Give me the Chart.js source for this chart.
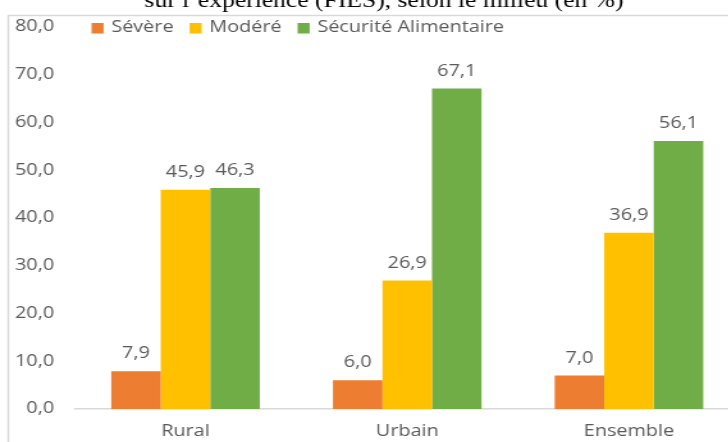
<!DOCTYPE html>
<html>
<head>
<meta charset="UTF-8">
<title>Insécurité alimentaire selon le milieu</title>
<style>
  html, body { margin: 0; padding: 0; background: #fff; overflow: hidden; }
  body { width: 728px; height: 442px; }
  /* the chart is drawn narrow, then widened to the page */
  #wrap { width: 590px; height: 442px; transform: scaleX(1.28); transform-origin: 0 0; }
</style>
</head>
<body>
<div id="wrap"><canvas id="fiesChart" width="590" height="442"></canvas></div>
<script src="https://cdn.jsdelivr.net/npm/chart.js"></script>
<script>
  const categories = ['Rural', 'Urbain', 'Ensemble'];
  const severe     = [7.9, 6.0, 7.0];
  const modere     = [45.9, 26.9, 36.9];
  const securite   = [46.3, 67.1, 56.1];
  const seriesLabels = ['Sévère', 'Modéré', 'Sécurité Alimentaire'];
  const titleText = 'sur l’expérience (FIES), selon le milieu (en %)';

  const grey = '#595959';
  const font = "'Open Sans', sans-serif";
  const fmt = v => v.toFixed(1).replace('.', ',');

  // outer frame + clipped title line
  const framePlugin = {
    id: 'frame',
    beforeDraw(chart) {
      const ctx = chart.ctx;
      ctx.save();
      ctx.strokeStyle = '#D9D9D9';
      ctx.lineWidth = 1.5;
      ctx.strokeRect(6.5, 15.5, 800, 600);
      ctx.fillStyle = '#000';
      ctx.font = "20px 'Liberation Serif', serif";
      ctx.textAlign = 'center';
      ctx.textBaseline = 'alphabetic';
      ctx.fillText(titleText, 300, 7);
      ctx.restore();
    }
  };

  // values above each bar
  const valueLabels = {
    id: 'valueLabels',
    afterDatasetsDraw(chart) {
      const ctx = chart.ctx;
      ctx.save();
      ctx.font = '15.5px ' + font;
      ctx.fillStyle = grey;
      ctx.textAlign = 'center';
      ctx.textBaseline = 'alphabetic';
      chart.data.datasets.forEach((ds, i) => {
        chart.getDatasetMeta(i).data.forEach((bar, j) => {
          ctx.fillText(fmt(ds.data[j]), bar.x, bar.y - 13);
        });
      });
      ctx.restore();
    }
  };

  // legend row sitting inside the plot, level with the top tick
  const inlineLegend = {
    id: 'inlineLegend',
    afterDraw(chart) {
      const ctx = chart.ctx;
      const cy = 28;
      let x = 71.5;
      ctx.save();
      ctx.font = '15.5px ' + font;
      ctx.textBaseline = 'middle';
      ctx.textAlign = 'left';
      chart.data.datasets.forEach(ds => {
        ctx.fillStyle = ds.backgroundColor;
        ctx.fillRect(x, cy - 5, 9.4, 10.5);
        x += 9.4 + 6;
        ctx.fillStyle = grey;
        ctx.fillText(ds.label, x, cy);
        x += ctx.measureText(ds.label).width + 12.5;
      });
      ctx.restore();
    }
  };

  new Chart(document.getElementById('fiesChart'), {
    type: 'bar',
    data: {
      labels: categories,
      datasets: [
        { label: seriesLabels[0], data: severe,   backgroundColor: '#ED7D31' },
        { label: seriesLabels[1], data: modere,   backgroundColor: '#FFC000' },
        { label: seriesLabels[2], data: securite, backgroundColor: '#70AD47' }
      ]
    },
    options: {
      responsive: false,
      animation: false,
      layout: { padding: { top: 27, left: 0, right: 12, bottom: 0 } },
      datasets: { bar: { categoryPercentage: 0.67, barPercentage: 1.0, borderWidth: 0 } },
      plugins: {
        legend: { display: false },
        tooltip: { enabled: false }
      },
      scales: {
        x: {
          grid: { display: false, drawTicks: false },
          border: { display: true, color: '#D9D9D9', width: 1.5 },
          ticks: { color: grey, font: { family: font, size: 15.5 }, padding: 13 },
          afterFit(scale) { scale.height = 33; }
        },
        y: {
          min: 0,
          max: 80,
          grid: { display: false, drawTicks: false },
          border: { display: false },
          ticks: {
            stepSize: 10,
            color: grey,
            font: { family: font, size: 15.5 },
            padding: 16,
            callback: v => fmt(v)
          },
          afterFit(scale) { scale.width = 58.3; }
        }
      }
    },
    plugins: [framePlugin, valueLabels, inlineLegend]
  });
</script>
</body>
</html>
